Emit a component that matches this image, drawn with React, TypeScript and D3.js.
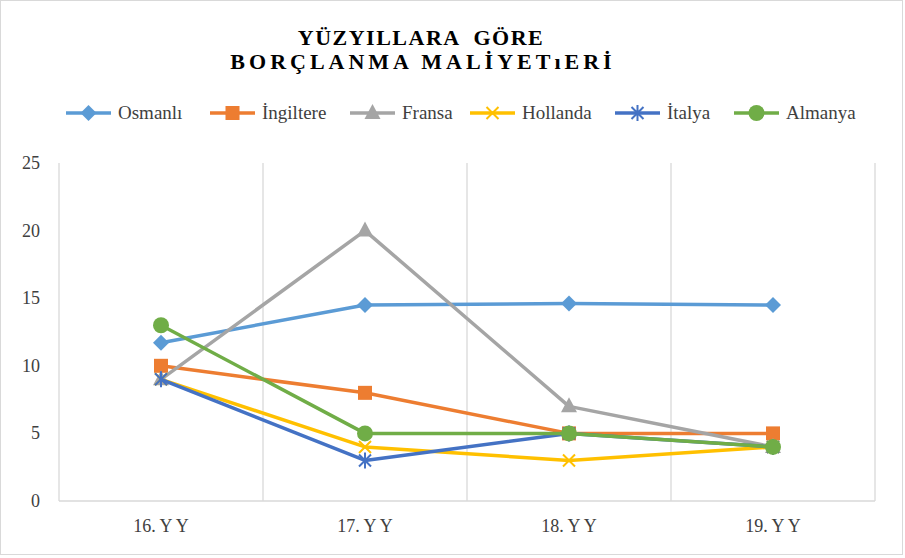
import React, { useEffect, useRef } from 'react';
import * as d3 from 'd3';

const categories = ['16. Y Y', '17. Y Y', '18. Y Y', '19. Y Y'];
const seriesNames = ['Osmanlı', 'İngiltere', 'Fransa', 'Hollanda', 'İtalya', 'Almanya'];
const osmanli = [11.7, 14.5, 14.6, 14.5];
const ingiltere = [10, 8, 5, 5];
const fransa = [9, 20, 7, 4];
const hollanda = [9, 4, 3, 4];
const italya = [9, 3, 5, 4];
const almanya = [13, 5, 5, 4];
const yTicks = [0, 5, 10, 15, 20, 25];

const colors = ['#5B9BD5', '#ED7D31', '#A5A5A5', '#FFC000', '#4472C4', '#70AD47'];
const markers = ['diamond', 'square', 'triangle', 'x', 'star', 'circle'];

const width = 905;
const height = 558;
const margin = { top: 163, right: 30, bottom: 57, left: 59 };
const font = '"Liberation Serif", "DejaVu Serif", serif';

const drawMarker = (
  g: d3.Selection<SVGGElement, unknown, null, undefined>,
  type: string,
  x: number,
  y: number,
  color: string,
) => {
  if (type === 'diamond') {
    g.append('path')
      .attr('d', `M${x},${y - 8}L${x + 8},${y}L${x},${y + 8}L${x - 8},${y}Z`)
      .attr('fill', color);
  } else if (type === 'square') {
    g.append('rect').attr('x', x - 7).attr('y', y - 7).attr('width', 14).attr('height', 14).attr('fill', color);
  } else if (type === 'triangle') {
    g.append('path')
      .attr('d', `M${x},${y - 9}L${x + 8},${y + 6}L${x - 8},${y + 6}Z`)
      .attr('fill', color);
  } else if (type === 'x') {
    g.append('path')
      .attr('d', `M${x - 6},${y - 6}L${x + 6},${y + 6}M${x + 6},${y - 6}L${x - 6},${y + 6}`)
      .attr('stroke', color)
      .attr('stroke-width', 2);
  } else if (type === 'star') {
    g.append('path')
      .attr('d', `M${x - 6},${y - 6}L${x + 6},${y + 6}M${x + 6},${y - 6}L${x - 6},${y + 6}M${x},${y - 8}L${x},${y + 8}`)
      .attr('stroke', color)
      .attr('stroke-width', 2);
  } else {
    g.append('circle').attr('cx', x).attr('cy', y).attr('r', 8).attr('fill', color);
  }
};

const App: React.FC = () => {
  const svgRef = useRef<SVGSVGElement>(null);

  useEffect(() => {
    if (!svgRef.current) return;
    const svg = d3.select(svgRef.current);
    svg.selectAll('*').remove();

    const series = [osmanli, ingiltere, fransa, hollanda, italya, almanya];
    const innerWidth = width - margin.left - margin.right;
    const innerHeight = height - margin.top - margin.bottom;

    const xScale = d3.scaleBand().domain(categories).range([0, innerWidth]);
    const yScale = d3.scaleLinear().domain([0, 25]).range([innerHeight, 0]);

    // outer border
    svg.append('rect')
      .attr('x', 0.5).attr('y', 0.5)
      .attr('width', width - 3).attr('height', height - 4)
      .attr('fill', '#fff').attr('stroke', '#d9d9d9');

    // title, two lines
    const titleStyle = (t: d3.Selection<SVGTextElement, unknown, null, undefined>) =>
      t.attr('text-anchor', 'middle')
        .style('font-family', font)
        .style('font-weight', 'bold')
        .style('font-size', '22px')
        .style('white-space', 'pre')
        .style('fill', '#000');
    titleStyle(svg.append('text'))
      .attr('x', 421).attr('y', 45)
      .style('letter-spacing', '1.5px')
      .text('YÜZYILLARA  GÖRE');
    titleStyle(svg.append('text'))
      .attr('x', 423).attr('y', 69)
      .style('letter-spacing', '4px')
      .text('BORÇLANMA MALİYETıERİ');

    // legend
    const legendX = [66, 210, 350, 470, 615, 734];
    const legend = svg.append('g').attr('transform', 'translate(0,113)');
    seriesNames.forEach((name, i) => {
      const lx = legendX[i];
      legend.append('line')
        .attr('x1', lx).attr('x2', lx + 45).attr('y1', 0).attr('y2', 0)
        .attr('stroke', colors[i]).attr('stroke-width', 3.5);
      drawMarker(legend as any, markers[i], lx + 22.5, 0, colors[i]);
      legend.append('text')
        .attr('x', lx + 52).attr('y', 6)
        .style('font-family', font).style('font-size', '19px').style('fill', '#404040')
        .text(name);
    });

    const g = svg.append('g').attr('transform', `translate(${margin.left},${margin.top})`);

    // vertical gridlines at category boundaries
    const bounds = categories.map(c => xScale(c) as number).concat([innerWidth]);
    g.selectAll('.vgrid')
      .data(bounds)
      .enter()
      .append('line')
      .attr('x1', d => d).attr('x2', d => d)
      .attr('y1', 0).attr('y2', innerHeight)
      .attr('stroke', '#d9d9d9').attr('stroke-width', 1.3);

    g.append('line')
      .attr('x1', 0).attr('x2', innerWidth)
      .attr('y1', innerHeight).attr('y2', innerHeight)
      .attr('stroke', '#d9d9d9').attr('stroke-width', 1.3);

    // y tick labels
    g.selectAll('.ylab')
      .data(yTicks)
      .enter()
      .append('text')
      .attr('x', -19)
      .attr('y', d => yScale(d) + 6)
      .attr('text-anchor', 'end')
      .style('font-family', font).style('font-size', '18px').style('fill', '#404040')
      .text(d => d);

    // x tick labels
    g.selectAll('.xlab')
      .data(categories)
      .enter()
      .append('text')
      .attr('x', d => (xScale(d) as number) + xScale.bandwidth() / 2)
      .attr('y', innerHeight + 31)
      .attr('text-anchor', 'middle')
      .style('font-family', font).style('font-size', '18px').style('fill', '#404040')
      .text(d => d);

    const cx = (c: string) => (xScale(c) as number) + xScale.bandwidth() / 2;
    const line = d3.line<number>()
      .x((_, i) => cx(categories[i]))
      .y(d => yScale(d));

    series.forEach((vals, si) => {
      const sg = g.append('g');
      sg.append('path')
        .attr('d', line(vals))
        .attr('fill', 'none')
        .attr('stroke', colors[si])
        .attr('stroke-width', 3.5)
        .attr('stroke-linejoin', 'round')
        .attr('stroke-linecap', 'round');
      vals.forEach((v, i) => drawMarker(sg as any, markers[si], cx(categories[i]), yScale(v), colors[si]));
    });
  }, []);

  return (
    <svg
      ref={svgRef}
      width={width}
      height={height}
      style={{ position: 'absolute', left: 0, top: 0, background: '#fff' }}
    />
  );
};

export default App;
